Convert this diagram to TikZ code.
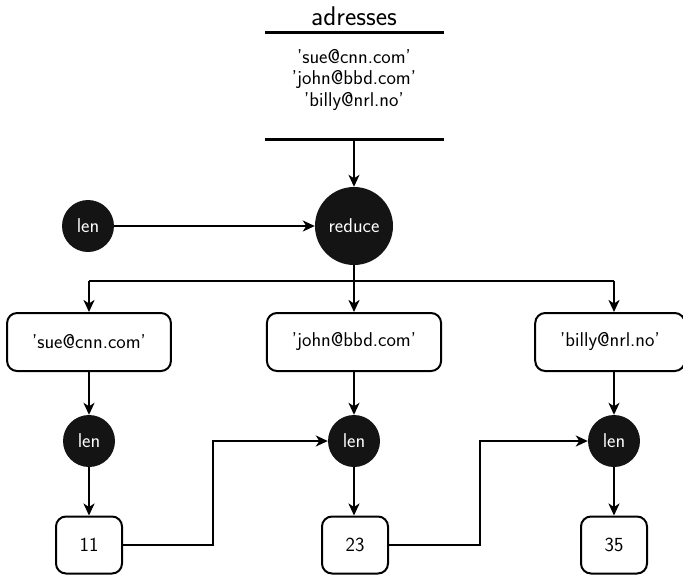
\documentclass[tikz,border=0pt]{standalone}
\usetikzlibrary{arrows.meta}
\begin{document}
\begin{tikzpicture}[x=1pt,y=-1pt,
  every node/.style={font=\sffamily\fontsize{20}{24}\selectfont},
  conn/.style={line width=2pt,-{Stealth[length=12pt,width=11pt,inset=3.5pt]}},
  fn/.style={circle,fill=black!92,text=white,inner sep=0pt,minimum size=52pt},
  bigfn/.style={circle,fill=black!92,text=white,inner sep=0pt,minimum size=78pt},
  item/.style={draw,line width=2pt,rounded corners=10pt,inner xsep=25pt,minimum height=58pt},
  num/.style={draw,line width=2pt,rounded corners=10pt,minimum width=66pt,minimum height=57pt},
  rule/.style={line width=3pt}]
\useasboundingbox (0,0) rectangle (683,574);

% data store: title, rules and contents
\node (title) at (354,16) {\fontsize{27}{32}\selectfont adresses};
\coordinate (rt1) at (265,32); \coordinate (rt2) at (444,32);
\coordinate (rb1) at (265,139); \coordinate (rb2) at (444,139);
\draw[rule] (rt1) -- (rt2);
\draw[rule] (rb1) -- (rb2);
\node[align=center,font=\sffamily\fontsize{20}{21.5}\selectfont] (list) at (354,80)
  {'sue@cnn.com'\\'john@bbd.com'\\'billy@nrl.no'};
\coordinate (store) at (354,139);

% reduce stage
\node[bigfn] (reduce) at (354,226) {reduce};
\node[fn] (len0) at (88,226) {len};
\draw[conn] (store) -- (reduce);
\draw[conn] (len0) -- (reduce);

% the three items
\node[item] (i1) at (89,342) {'sue@cnn.com'};
\node[item] (i2) at (354,342) {'john@bbd.com'};
\node[item] (i3) at (610,342) {'billy@nrl.no'};

\coordinate (split) at (354,281);
\coordinate (s1) at (89,281);
\coordinate (s3) at (614,281);
\draw[line width=2pt] (reduce.south) -- (split);
\draw[line width=2pt] (s1) -- (s3);
\draw[conn] (s1) -- (s1 |- i1.north);
\draw[conn] (split) -- (i2.north);
\draw[conn] (s3) -- (s3 |- i3.north);

% len applications
\node[fn] (l1) at (89,441) {len};
\node[fn] (l2) at (354,441) {len};
\node[fn] (l3) at (614,441) {len};
\draw[conn] (i1.south -| l1) -- (l1);
\draw[conn] (i2.south -| l2) -- (l2);
\draw[conn] (i3.south -| l3) -- (l3);

% results
\node[num] (n1) at (89,545) {11};
\node[num] (n2) at (355,545) {23};
\node[num] (n3) at (614,545) {35};
\draw[conn] (l1) -- (n1);
\draw[conn] (l2) -- (l2 |- n2.north);
\draw[conn] (l3) -- (n3);

% accumulator hand-off
\draw[conn] (n1.east) -- (213,545) -- (213,441) -- (l2.west);
\draw[conn] (n2.east) -- (480,545) -- (480,441) -- (l3.west);
\end{tikzpicture}
\end{document}
